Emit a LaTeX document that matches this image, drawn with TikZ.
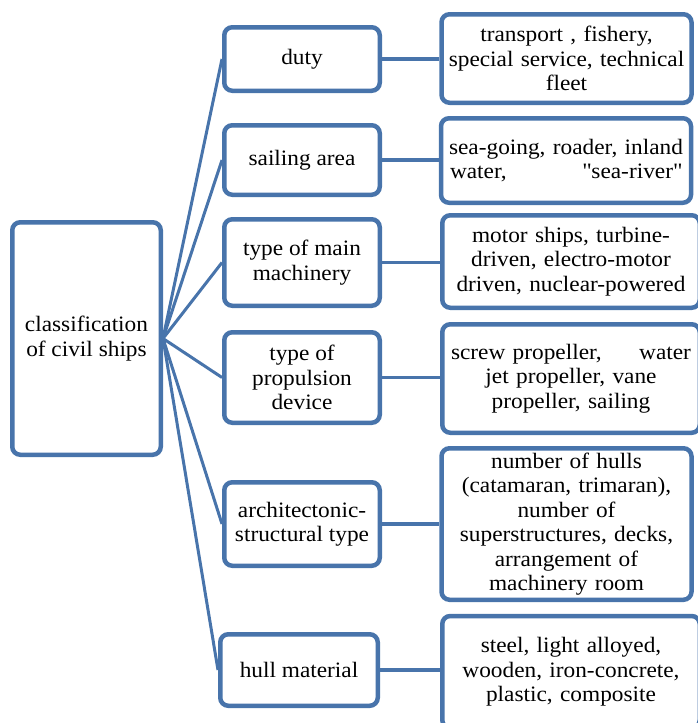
\documentclass[tikz,border=0pt]{standalone}
\usepackage{fontspec}
\setmainfont{Liberation Serif}[FakeStretch=1.06]
\usetikzlibrary{backgrounds}
\definecolor{shipblue}{HTML}{4874AB}

\tikzset{box/.style  = {draw=shipblue, line width=4.5pt, rounded corners=8pt,
                        fill=white, align=center, inner sep=2pt},
         kind/.style = {box, minimum width=155.5pt},
         info/.style = {box, text width=246pt},
         link/.style = {draw=shipblue, line width=3pt}}

\begin{document}
\begin{tikzpicture}[x=1pt, y=-1pt, font=\fontsize{22}{24.5}\selectfont]
  \useasboundingbox (0,0) rectangle (698,723);
  % the class
  \node [box, minimum width=148.5pt, minimum height=232.5pt] (civil) at (86.5,338.5)
        {classification\\of civil ships};
  % features
  \node [kind, minimum height=63.5pt] (duty) at (302,59)    {duty};
  \node [kind, minimum height=69.5pt] (sail) at (302,160)   {sailing area};
  \node [kind, minimum height=86.5pt] (mach) at (302,262.5) {type of main\\machinery};
  \node [kind, minimum height=90.5pt] (prop) at (302,377.5) {type of\\propulsion\\device};
  \node [kind, minimum height=83.5pt] (arch) at (302,524)   {architectonic-\\structural type};
  \node [kind, minimum width=157.5pt, minimum height=71.5pt] (hull) at (299,670) {hull material};
  % kinds
  \node [info, minimum height=88.5pt] (duty-info) at (566.5,58.5)
        {transport , fishery,\\special service, technical\\fleet};
  \node [info, minimum height=84.5pt] (sail-info) at (566,160.5)
        {sea-going, roader, inland\\\makebox[232pt]{water,\hfill\textquotedbl sea-river\textquotedbl}};
  \node [info, minimum width=257.5pt, minimum height=92.5pt] (mach-info) at (571,261.5)
        {motor ships, turbine-\\driven, electro-motor\\driven, nuclear-powered};
  \node [info, minimum width=257.5pt, minimum height=108.5pt] (prop-info) at (571,378.5)
        {\makebox[240pt]{screw propeller,\hfill water}\\jet propeller, vane\\propeller, sailing};
  \node [info, minimum height=151.5pt] (arch-info) at (566.5,524)
        {number of hulls\\(catamaran, trimaran),\\number of\\superstructures, decks,\\arrangement of\\machinery room};
  \node [info, minimum width=257.5pt, minimum height=112pt] (hull-info) at (571,672)
        {steel, light alloyed,\\wooden, iron-concrete,\\plastic, composite};

  \begin{scope}[on background layer]
    \foreach \k in {duty,sail,mach,prop,arch,hull} {
      \draw [link] (civil.east) -- (\k.west);
      \draw [link, line width=3.5pt] (\k.east) -- (\k.east -| \k-info.west);
    }
  \end{scope}
\end{tikzpicture}
\end{document}
